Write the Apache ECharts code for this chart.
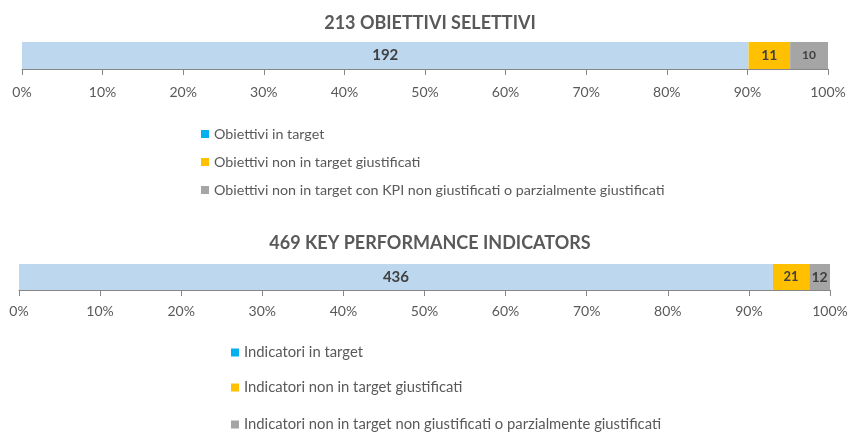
<!DOCTYPE html>
<html>
<head>
<meta charset="utf-8">
<script src="https://cdn.jsdelivr.net/npm/echarts@6/dist/echarts.min.js"></script>
<style>
  html, body { margin: 0; padding: 0; background: #fff; }
  #chart { width: 860px; height: 434px; }
</style>
</head>
<body>
<div id="chart"></div>
<script>
// counts
const obiettiviNames = ['Obiettivi in target', 'Obiettivi non in target giustificati', 'Obiettivi non in target con KPI non giustificati o parzialmente giustificati']
const obiettiviCounts = [192, 11, 10]
const kpiNames = ['Indicatori in target', 'Indicatori non in target giustificati', 'Indicatori non in target non giustificati o parzialmente giustificati']
const kpiCounts = [436, 21, 12]
const titles = ['213 OBIETTIVI SELETTIVI', '469 KEY PERFORMANCE INDICATORS']
const barColors = ['#BDD7EE', '#FFC000', '#A5A5A5']
const legendColors = ['#00B0F0', '#FFC000', '#A5A5A5']
const labelSizes = [[15, 14, 12], [15, 13, 14]]

const font = 'Lato, "Open Sans", sans-serif'
const myChart = echarts.init(document.getElementById('chart'))

function makeSeries (names, counts, idx) {
  const total = counts.reduce((a, b) => a + b, 0)
  return names.map((name, i) => ({
    name,
    type: 'bar',
    stack: 'tot' + idx,
    xAxisIndex: idx,
    yAxisIndex: idx,
    barWidth: '100%',
    itemStyle: { color: barColors[i] },
    label: {
      show: true,
      position: 'inside',
      color: '#404040',
      fontWeight: 'bold',
      fontFamily: font,
      fontSize: labelSizes[idx][i],
      formatter: (p) => p.data.count
    },
    data: [{ value: counts[i] / total * 100, count: counts[i] }]
  }))
}

function makeAxis (gridIndex, margin) {
  return {
    gridIndex,
    type: 'value',
    min: 0,
    max: 100,
    interval: 10,
    position: 'bottom',
    splitLine: { show: false },
    axisLine: { show: true, lineStyle: { color: '#868686', width: 1 } },
    axisTick: { show: true, length: 6, lineStyle: { color: '#868686' } },
    axisLabel: { formatter: '{value}%', color: '#595959', fontSize: 14, fontFamily: font, margin }
  }
}

const legendText = { color: '#595959', fontSize: 14.3, fontFamily: font }
const legendTops2 = [345, 380, 417]

const option = {
  animation: false,
  title: [
    { text: titles[0], left: 'center', top: 9, textStyle: { color: '#595959', fontSize: 18, fontWeight: 'bold', fontFamily: font } },
    { text: titles[1], left: 'center', top: 229, textStyle: { color: '#595959', fontSize: 18, fontWeight: 'bold', fontFamily: font } }
  ],
  legend: [
    {
      data: obiettiviNames.map((n, i) => ({ name: n, itemStyle: { color: legendColors[i] } })),
      orient: 'vertical',
      left: 196,
      top: 122,
      icon: 'rect',
      itemWidth: 8,
      itemHeight: 8,
      itemGap: 14,
      textStyle: legendText
    },
    ...kpiNames.map((n, i) => ({
      data: [{ name: n, itemStyle: { color: legendColors[i] } }],
      left: 231,
      top: legendTops2[i],
      padding: 0,
      icon: 'rect',
      itemWidth: 8,
      itemHeight: 8,
      textStyle: Object.assign({}, legendText, { fontSize: 14.8 })
    }))
  ],
  grid: [
    { left: 22, right: 32, top: 42, height: 27 },
    { left: 19, right: 30, top: 264, height: 26 }
  ],
  xAxis: [makeAxis(0, 16), makeAxis(1, 14)],
  yAxis: [
    { type: 'category', gridIndex: 0, data: [''], show: false },
    { type: 'category', gridIndex: 1, data: [''], show: false }
  ],
  series: [
    ...makeSeries(obiettiviNames, obiettiviCounts, 0),
    ...makeSeries(kpiNames, kpiCounts, 1)
  ]
}

myChart.setOption(option)
</script>
</body>
</html>
